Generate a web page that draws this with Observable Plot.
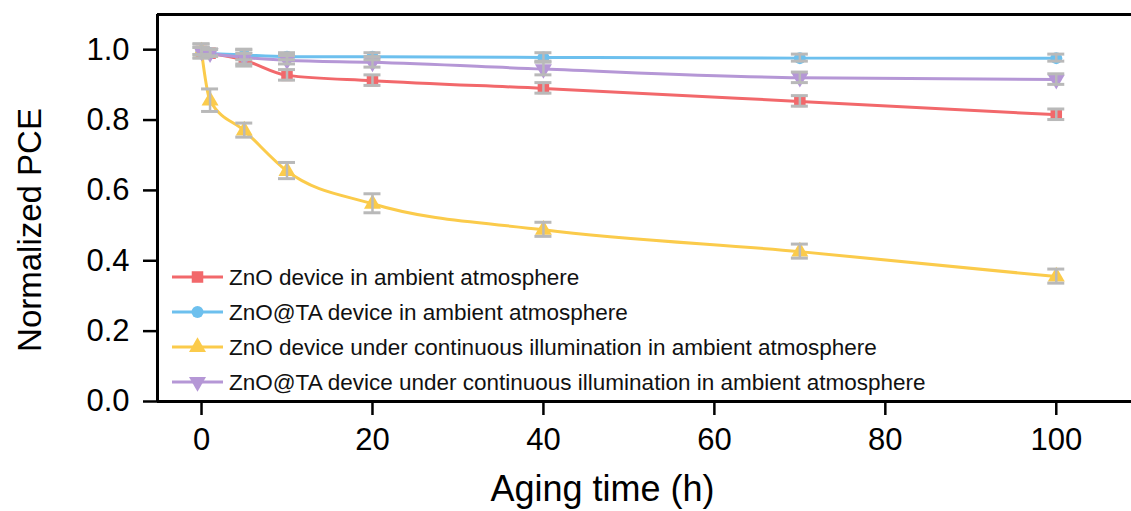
<!DOCTYPE html>
<html>
<head>
<meta charset="utf-8">
<script src="https://cdn.jsdelivr.net/npm/d3@7"></script>
<script src="https://cdn.jsdelivr.net/npm/@observablehq/plot@0.6"></script>
<style>
  html, body { margin: 0; padding: 0; background: #fff; }
  #chart svg { display: block; }
</style>
</head>
<body>
<div id="chart"></div>
<script>
// Aging time points (hours)
const times = [0, 1, 5, 10, 20, 40, 70, 100];

// Series names (legend order)
const seriesNames = [
  "ZnO device in ambient atmosphere",
  "ZnO@TA device in ambient atmosphere",
  "ZnO device under continuous illumination in ambient atmosphere",
  "ZnO@TA device under continuous illumination in ambient atmosphere"
];

// Normalized PCE values per series
const znoAmbient      = [0.995, 0.990, 0.970, 0.927, 0.912, 0.890, 0.853, 0.815];
const znoTaAmbient    = [0.995, 0.990, 0.985, 0.980, 0.980, 0.978, 0.976, 0.976];
const znoIllum        = [0.995, 0.855, 0.770, 0.655, 0.562, 0.488, 0.426, 0.355];
const znoTaIllum      = [0.995, 0.990, 0.978, 0.970, 0.964, 0.945, 0.920, 0.915];

// Standard deviations per series
const znoAmbientErr   = [0.010, 0.010, 0.018, 0.015, 0.015, 0.015, 0.015, 0.015];
const znoTaAmbientErr = [0.020, 0.010, 0.015, 0.010, 0.010, 0.012, 0.010, 0.010];
const znoIllumErr     = [0.010, 0.032, 0.020, 0.023, 0.027, 0.020, 0.020, 0.020];
const znoTaIllumErr   = [0.020, 0.010, 0.020, 0.012, 0.015, 0.018, 0.015, 0.015];

// Axis ticks
const xTicks = [0, 20, 40, 60, 80, 100];
const yTicks = [0, 0.2, 0.4, 0.6, 0.8, 1.0];

const colors  = ["#f2686b", "#6dc0ee", "#fbcb4b", "#b597d6"];
const symbols = ["square", "circle", "triangle", "triangle"];
const rotates = [0, 0, 0, 180];
const radii   = [6.5, 6, 6.3, 6.3];
const errColor = "#b9b9b9";

const values = [znoAmbient, znoTaAmbient, znoIllum, znoTaIllum];
const errs = [znoAmbientErr, znoTaAmbientErr, znoIllumErr, znoTaIllumErr];

const rows = [];
seriesNames.forEach((name, s) => {
  times.forEach((t, i) => {
    rows.push({series: name, s, time: t, pce: values[s][i], err: errs[s][i]});
  });
});

const FONT = "'Liberation Sans', Arial, Helvetica, sans-serif";
const xDomain = [-5.15, 108.8];
const yDomain = [0, 1.1];

const marks = [];
// Lines
seriesNames.forEach((name, s) => {
  marks.push(Plot.line(rows.filter(d => d.s === s), {
    x: "time", y: "pce", stroke: colors[s], strokeWidth: 3, curve: "monotone-x"
  }));
});
// Markers
seriesNames.forEach((name, s) => {
  marks.push(Plot.dot(rows.filter(d => d.s === s), {
    x: "time", y: "pce", symbol: () => symbols[s], r: radii[s], rotate: rotates[s],
    fill: colors[s], stroke: "none"
  }));
});
// Error bars (vertical part; caps added below)
marks.push(
  Plot.ruleX(rows, {x: "time", y1: d => d.pce - d.err, y2: d => d.pce + d.err, stroke: errColor, strokeWidth: 2.5})
);

const plot = Plot.plot({
  width: 1131,
  height: 511,
  marginLeft: 157,
  marginRight: 0,
  marginTop: 14,
  marginBottom: 110,
  style: {fontFamily: FONT, background: "#fff", color: "#000", overflow: "visible"},
  x: {type: "linear", domain: xDomain},
  y: {type: "linear", domain: yDomain},
  marks: [
    ...marks,
    Plot.axisX({ticks: xTicks, tickSize: 14, tickPadding: 12, fontSize: 31, strokeWidth: 2.5, label: null}),
    Plot.axisY({ticks: yTicks, tickFormat: d3.format(".1f"), tickSize: 14, tickPadding: 14, fontSize: 31, strokeWidth: 2.5, label: null}),
    Plot.ruleY([yDomain[0]], {stroke: "#000", strokeWidth: 3}),
    Plot.ruleY([yDomain[1]], {stroke: "#000", strokeWidth: 3}),
    Plot.ruleX([xDomain[0]], {stroke: "#000", strokeWidth: 3}),
    Plot.text(["Normalized PCE"], {frameAnchor: "left", text: d => d, rotate: -90, dx: -127, dy: 22, fontSize: 33, fill: "#000", textAnchor: "middle", lineAnchor: "middle"}),
    Plot.text(["Aging time (h)"], {frameAnchor: "bottom", text: d => d, dx: -42, dy: 88, fontSize: 36, fill: "#000", textAnchor: "middle", lineAnchor: "middle"})
  ]
});

document.getElementById("chart").appendChild(plot);

// Caps are drawn as short horizontal segments at both ends of each error bar
{
  const svg = d3.select(plot);
  const xs = plot.scale("x"), ys = plot.scale("y");
  const g = svg.append("g").attr("stroke", errColor).attr("stroke-width", 3);
  rows.forEach(d => {
    const px = xs.apply(d.time);
    [d.pce - d.err, d.pce + d.err].forEach(v => {
      const py = ys.apply(v);
      g.append("line").attr("x1", px - 8.5).attr("x2", px + 8.5).attr("y1", py).attr("y2", py);
    });
  });
}

// Legend in the lower-left corner of the plot area
{
  const svg = d3.select(plot);
  const lg = svg.append("g").attr("font-family", FONT).attr("font-size", 22.5).attr("text-anchor", "start");
  const x0 = 172, x1 = 223, xm = 197.5, xt = 229, y0 = 277, dy = 35;
  seriesNames.forEach((name, s) => {
    const y = y0 + s * dy;
    lg.append("line").attr("x1", x0).attr("x2", x1).attr("y1", y).attr("y2", y)
      .attr("stroke", colors[s]).attr("stroke-width", 3);
    const sym = {square: d3.symbolSquare, circle: d3.symbolCircle, triangle: d3.symbolTriangle}[symbols[s]];
    lg.append("path").attr("d", d3.symbol(sym, Math.PI * radii[s] * radii[s])())
      .attr("transform", `translate(${xm},${y}) rotate(${rotates[s]})`)
      .attr("fill", colors[s]);
    lg.append("text").attr("x", xt).attr("y", y).attr("dy", "0.35em").attr("fill", "#111").text(name);
  });
}
</script>
</body>
</html>
